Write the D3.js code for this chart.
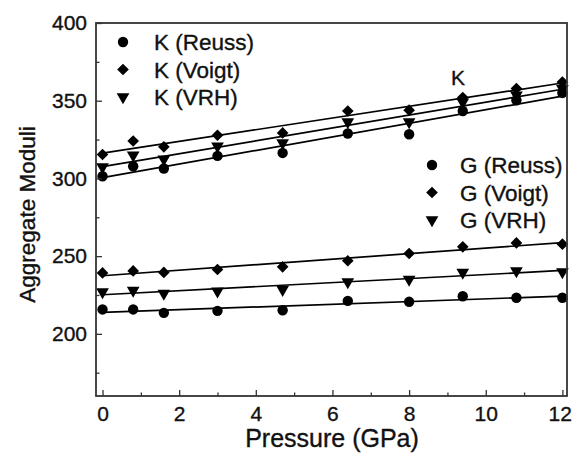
<!DOCTYPE html>
<html><head><meta charset="utf-8">
<script src="https://cdn.jsdelivr.net/npm/d3@7"></script>
<style>body{margin:0;background:#fff}svg{display:block}text{font-family:"Liberation Sans",Arial,sans-serif;fill:#111;stroke:#111;stroke-width:0.35px}</style>
</head><body><svg id="c" width="573" height="462"></svg>
<script>
const pressure = [0, 0.8, 1.6, 3.0, 4.7, 6.4, 8.0, 9.4, 10.8, 12.0];
const kReuss = [301.4, 307.8, 306.4, 314.5, 316.4, 328.9, 328.4, 343.4, 350.3, 355.0];
const kVoigt = [315.4, 324.1, 320.3, 327.8, 329.3, 343.4, 343.9, 352.0, 357.8, 362.0];
const kVRH   = [307.4, 314.9, 312.4, 320.7, 322.8, 336.3, 336.3, 349.0, 353.5, 357.8];
const gReuss = [215.7, 215.7, 213.5, 214.8, 215.2, 221.2, 220.6, 224.2, 223.2, 223.2];
const gVoigt = [239.2, 240.5, 239.5, 241.4, 243.1, 247.0, 251.7, 256.0, 258.5, 257.7];
const gVRH   = [227.0, 228.0, 226.0, 227.5, 228.5, 233.4, 235.0, 239.5, 240.5, 239.9];
const xTicks = [0, 2, 4, 6, 8, 10, 12];
const xMinor = [1, 3, 5, 7, 9, 11];
const yTicks = [200, 250, 300, 350, 400];
const yMinor = [175, 225, 275, 325, 375];
const kLegend = ["K (Reuss)", "K (Voigt)", "K (VRH)"];
const gLegend = ["G (Reuss)", "G (Voigt)", "G (VRH)"];

const svg = d3.select("#c");
const L = 96, R = 567, T = 23, B = 396;
const x = d3.scaleLinear().domain([-0.17, 12.12]).range([L, R]);
const y = d3.scaleLinear().domain([160, 400]).range([B, T]);

const shapes = {
  circle: d3.symbol().type(d3.symbolCircle).size(85),
  diamond: d3.symbol().type(d3.symbolSquare).size(68),
  tri: d3.symbol().type(d3.symbolTriangle).size(70)
};
const rot = {circle: 0, diamond: 45, tri: 180};

function fit(xs, ys) {
  const mx = d3.mean(xs), my = d3.mean(ys);
  let num = 0, den = 0;
  xs.forEach((v, i) => { num += (v - mx) * (ys[i] - my); den += (v - mx) * (v - mx); });
  const b = num / den; return [my - b * mx, b];
}

const series = [
  {v: kReuss, s: "circle"}, {v: kVoigt, s: "diamond"}, {v: kVRH, s: "tri"},
  {v: gReuss, s: "circle"}, {v: gVoigt, s: "diamond"}, {v: gVRH, s: "tri"}
];

series.forEach(sr => {
  const [a, b] = fit(pressure, sr.v);
  const x0 = pressure[0], x1 = pressure[pressure.length - 1];
  svg.append("line").attr("x1", x(x0)).attr("y1", y(a + b * x0))
    .attr("x2", x(x1)).attr("y2", y(a + b * x1))
    .attr("stroke", "#000").attr("stroke-width", 1.7);
});
series.forEach(sr => {
  svg.append("g").selectAll("path").data(sr.v).join("path")
    .attr("d", shapes[sr.s]())
    .attr("transform", (d, i) => `translate(${x(pressure[i])},${y(d)}) rotate(${rot[sr.s]})`)
    .attr("fill", "#000");
});

svg.append("rect").attr("x", L).attr("y", T).attr("width", R - L).attr("height", B - T)
  .attr("fill", "none").attr("stroke", "#333").attr("stroke-width", 1.8);

const xg = svg.append("g").attr("transform", `translate(0,${B})`)
  .call(d3.axisBottom(x).tickValues(xTicks).tickSize(-6).tickPadding(10).tickFormat(d3.format("d")));
svg.append("g").attr("transform", `translate(0,${B})`)
  .call(d3.axisBottom(x).tickValues(xMinor).tickSize(-3.5).tickFormat(""));
svg.append("g").attr("transform", `translate(${L},0)`)
  .call(d3.axisLeft(y).tickValues(yTicks).tickSize(-6).tickPadding(9).tickFormat(d3.format("d")));
svg.append("g").attr("transform", `translate(${L},0)`)
  .call(d3.axisLeft(y).tickValues(yMinor).tickSize(-3.5).tickFormat(""));
svg.selectAll(".domain").remove();
svg.selectAll(".tick line").attr("stroke", "#333").attr("stroke-width", 1.3);
svg.selectAll(".tick text").attr("font-size", 21).attr("fill", "#111")
  .style("font-family", '"Liberation Sans", Arial, sans-serif');
// keep the last x label inside the canvas
xg.selectAll(".tick text").filter(d => d === 12).attr("text-anchor", "end").attr("x", 9);

svg.append("text").attr("x", 332).attr("y", 447).attr("text-anchor", "middle")
  .attr("font-size", 25).text("Pressure (GPa)");
svg.append("text").attr("transform", `translate(35,214.5) rotate(-90)`)
  .attr("text-anchor", "middle").attr("font-size", 22.5).text("Aggregate Moduli");

function legend(items, mx, tx, y0, dy) {
  items.forEach((t, i) => {
    const s = ["circle", "diamond", "tri"][i];
    svg.append("path").attr("d", shapes[s]())
      .attr("transform", `translate(${mx},${y0 + i * dy}) rotate(${rot[s]})`).attr("fill", "#000");
    svg.append("text").attr("x", tx).attr("y", y0 + i * dy).attr("dy", "0.36em")
      .attr("font-size", 22.5).text(t);
  });
}
legend(kLegend, 123, 154, 42, 27.5);
legend(gLegend, 432, 460, 165, 27.5);
svg.append("text").attr("x", 458).attr("y", 85).attr("text-anchor", "middle")
  .attr("font-size", 21).text("K");
</script></body></html>
